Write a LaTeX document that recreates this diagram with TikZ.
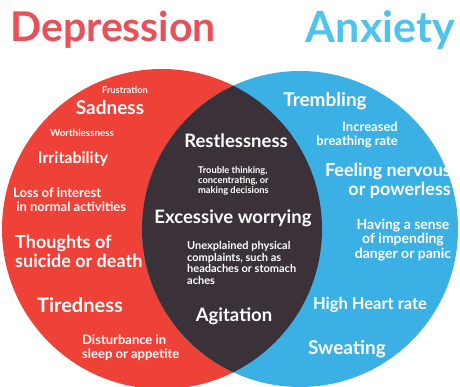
\documentclass[tikz,border=0pt]{standalone}
\usepackage{fontspec}
\setmainfont{Lato}
\usepackage{xcolor}
\definecolor{deprred}{HTML}{EE4137}
\definecolor{anxblue}{HTML}{3BB0E5}
\definecolor{overlap}{HTML}{3A3238}
\definecolor{titlered}{HTML}{E9505A}
\definecolor{titleblue}{HTML}{4DC3EE}
\usepackage{tikz}
\usetikzlibrary{positioning}

\begin{document}
\begin{tikzpicture}[
  x=1pt, y=-1pt,
  title/.style={font=\fontsize{41}{41}\selectfont\bfseries, inner sep=0pt},
  bigsym/.style={text=white, inner sep=0pt, font=\fontsize{18.5}{18.5}\selectfont\bfseries, align=center},
  midsym/.style={text=white, inner sep=0pt, font=\fontsize{13}{14}\selectfont\bfseries},
  smallsym/.style={text=white, inner sep=0pt, font=\fontsize{9.3}{9.8}\selectfont\bfseries},
]
\useasboundingbox (0,0) rectangle (460,387);
\fill[white] (0,0) rectangle (460,387);

% circles
\fill[deprred] (162,229) circle[radius=160];
\fill[anxblue] (300,229) circle[radius=158];
\begin{scope}
  \clip (162,229) circle[radius=160];
  \fill[overlap] (300,229) circle[radius=158];
\end{scope}

% titles
\node[title, text=titlered, anchor=west] (depr) at (10,30) {Depression};
\node[title, text=titleblue, anchor=east, font=\fontsize{43}{43}\selectfont\bfseries] (anx) at (455,30) {Anxiety};

% depression
\node[smallsym] (frust) at (125,90) {Frustration};
\node[bigsym, font=\fontsize{19}{19}\selectfont\bfseries] (sad) at (110,108) {Sadness};
\node[smallsym, font=\fontsize{9.8}{10}\selectfont\bfseries] (worth) at (82,133) {Worthlessness};
\node[bigsym, font=\fontsize{16}{16}\selectfont\bfseries] (irrit) at (73,159) {Irritability};
\node[midsym, align=left, anchor=west] (loss) at (13,200) {Loss of interest\\\ in normal activities};
\node[bigsym, font=\fontsize{18}{19}\selectfont\bfseries, align=left, anchor=west] (suic) at (15,251) {Thoughts of\\suicide or death};
\node[bigsym, font=\fontsize{20}{20}\selectfont\bfseries] (tired) at (80,305) {Tiredness};
\node[midsym, align=left, anchor=west] (sleep) at (82,348) {Disturbance in\\sleep or appetite};

% both
\node[bigsym] (restl) at (236,141) {Restlessness};
\node[smallsym, align=left, anchor=west] (think) at (198,181) {Trouble thinking,\\concentrating, or\\making decisions};
\node[bigsym] (worry) at (233,218) {Excessive worrying};
\node[midsym, font=\fontsize{11}{11.5}\selectfont\bfseries, align=left, anchor=west] (compl) at (187,263) {Unexplained physical\\complaints, such as\\headaches or stomach\\aches};
\node[bigsym] (agit) at (234,316) {Agitation};

% anxiety
\node[bigsym, font=\fontsize{19}{19}\selectfont\bfseries] (tremb) at (325,101) {Trembling};
\node[midsym, align=right, anchor=east] (breath) at (398,135) {Increased\\breathing rate};
\node[bigsym, font=\fontsize{18}{19}\selectfont\bfseries, align=right, anchor=east] (nerv) at (451,181) {Feeling nervous\\or powerless};
\node[midsym, font=\fontsize{14}{14.5}\selectfont\bfseries, align=center] (sense) at (403,240) {Having a sense\\of impending\\danger or panic};
\node[bigsym, font=\fontsize{16.5}{16.5}\selectfont\bfseries] (heart) at (370,305) {High Heart rate};
\node[bigsym, font=\fontsize{19}{19}\selectfont\bfseries] (sweat) at (347,349) {Sweating};

\end{tikzpicture}
\end{document}
